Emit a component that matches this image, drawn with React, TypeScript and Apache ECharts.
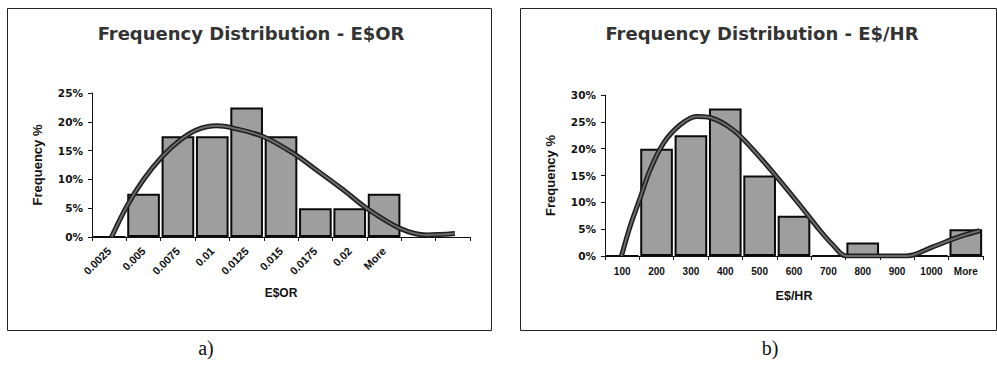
import React, { useEffect, useRef } from "react";
import * as echarts from "echarts";

// ---- Chart a) E$OR ----
const catsA = ["0.0025", "0.005", "0.0075", "0.01", "0.0125", "0.015", "0.0175", "0.02", "More", "", ""];
const freqA = [0, 7.5, 17.5, 17.5, 22.5, 17.5, 5, 5, 7.5, null, null];
// trend curve: [category position, %]
const curveA: [number, number][] = [
  [0.57, 0], [1.01, 5.3], [1.49, 9.9], [2.03, 13.9], [2.56, 16.8], [3.05, 18.6],
  [3.63, 19.3], [4.11, 18.9], [4.99, 17.4], [5.86, 14.5], [6.54, 11.6], [7.31, 8.2],
  [7.99, 5.0], [8.96, 1.5], [9.74, 0.35], [10.56, 0.6],
];
const yTicksA = { min: 0, max: 25, interval: 5 };

// ---- Chart b) E$/HR ----
const catsB = ["100", "200", "300", "400", "500", "600", "700", "800", "900", "1000", "More"];
const freqB = [0, 20, 22.5, 27.5, 15, 7.5, 0, 2.5, 0, 0, 5];
const curveB: [number, number][] = [
  [0.48, 0], [0.73, 5.5], [1.0, 10.4], [1.31, 16.0], [1.7, 21.0], [2.18, 24.4],
  [2.66, 26.0], [3.05, 25.8], [3.73, 23.5], [4.31, 19.8], [4.99, 14.8], [5.67, 9.5],
  [6.25, 4.8], [6.64, 2.0], [7.02, 0], [8.77, 0], [9.54, 1.7], [10.32, 3.6], [10.9, 4.7],
];
const yTicksB = { min: 0, max: 30, interval: 5 };

const titleA = "Frequency Distribution - E$OR";
const titleB = "Frequency Distribution - E$/HR";
const xNameA = "E$OR";
const xNameB = "E$/HR";
const yName = "Frequency %";

const FONT = "'Liberation Sans', Arial, sans-serif";
const WIDE = "'DejaVu Sans', 'Liberation Sans', sans-serif";

export default function App() {
  const ref = useRef<HTMLDivElement>(null);
  useEffect(() => {
    if (!ref.current) return;
    const chart = echarts.init(ref.current, undefined, { renderer: "svg" });

    const catAxis = (
      grid: number,
      cats: string[],
      rotate: number,
      name: string,
      nameGap: number,
      labelSize: number,
      labelMargin: number,
      nameSize: number
    ) => ({
      type: "category",
      gridIndex: grid,
      data: cats,
      boundaryGap: true,
      name,
      nameLocation: "middle",
      nameGap,
      nameTextStyle: { fontFamily: FONT, fontWeight: "bold", fontSize: nameSize, color: "#111" },
      axisLine: { show: true, lineStyle: { color: "#111", width: 1 } },
      axisTick: { show: true, length: 4, lineStyle: { color: "#111" } },
      axisLabel: {
        interval: 0,
        rotate,
        margin: labelMargin,
        fontFamily: FONT,
        fontWeight: "bold",
        fontSize: labelSize,
        color: "#111",
      },
      splitLine: { show: false },
    });
    const valXAxis = (grid: number) => ({
      type: "value",
      gridIndex: grid,
      min: 0,
      max: 11,
      show: false,
    });
    const yAxis = (grid: number, t: { min: number; max: number; interval: number }) => ({
      type: "value",
      gridIndex: grid,
      min: t.min,
      max: t.max,
      interval: t.interval,
      name: yName,
      nameLocation: "middle",
      nameGap: 48,
      nameTextStyle: { fontFamily: FONT, fontWeight: "bold", fontSize: 13, color: "#111" },
      axisLine: { show: true, lineStyle: { color: "#111", width: 1 } },
      axisTick: { show: true, length: 4, lineStyle: { color: "#111" } },
      axisLabel: {
        formatter: "{value}%",
        fontFamily: WIDE,
        fontWeight: "bold",
        fontSize: 10.5,
        color: "#111",
        margin: 9,
      },
      splitLine: { show: false },
    });

    const barSeries = (xi: number, yi: number, data: (number | null)[]) => ({
      type: "bar",
      xAxisIndex: xi,
      yAxisIndex: yi,
      data,
      barCategoryGap: "5%",
      itemStyle: { color: "#9e9e9e", borderColor: "#0a0a0a", borderWidth: 2 },
      z: 2,
    });
    const curveSeries = (xi: number, yi: number, data: [number, number][], w: number, c: string, z: number) => ({
      type: "line",
      xAxisIndex: xi,
      yAxisIndex: yi,
      data,
      smooth: 0.35,
      symbol: "none",
      clip: true,
      lineStyle: { color: c, width: w },
      z,
    });

    const titleStyle = (text: string) => ({
      text,
      font: `bold 18px ${WIDE}`,
      fill: "#333",
      align: "center",
      verticalAlign: "middle",
    });

    chart.setOption({
      animation: false,
      backgroundColor: "#fff",
      grid: [
        { left: 92, top: 93, width: 378, height: 144 },
        { left: 605, top: 95, width: 378, height: 161 },
      ],
      xAxis: [
        catAxis(0, catsA, 45, xNameA, 50, 11, 12, 12),
        valXAxis(0),
        catAxis(1, catsB, 0, xNameB, 33, 10, 10, 12.5),
        valXAxis(1),
      ],
      yAxis: [yAxis(0, yTicksA), yAxis(1, yTicksB)],
      series: [
        barSeries(0, 0, freqA),
        curveSeries(1, 0, curveA, 5, "#1e1e1e", 3),
        curveSeries(1, 0, curveA, 2, "#6a6a6a", 4),
        barSeries(2, 1, freqB),
        curveSeries(3, 1, curveB, 5, "#1e1e1e", 3),
        curveSeries(3, 1, curveB, 2, "#6a6a6a", 4),
      ],
      graphic: [
        { type: "rect", shape: { x: 7.5, y: 8.5, width: 484, height: 322 }, style: { fill: "none", stroke: "#222", lineWidth: 1 }, silent: true },
        { type: "rect", shape: { x: 520.5, y: 8.5, width: 476, height: 322 }, style: { fill: "none", stroke: "#222", lineWidth: 1 }, silent: true },
        { type: "text", x: 251, y: 33, style: titleStyle(titleA) },
        { type: "text", x: 762, y: 33, style: titleStyle(titleB) },
        { type: "text", x: 206, y: 348, style: { text: "a)", font: "20px 'Liberation Serif', 'Times New Roman', serif", fill: "#111", align: "center", verticalAlign: "middle" } },
        { type: "text", x: 770, y: 348, style: { text: "b)", font: "20px 'Liberation Serif', 'Times New Roman', serif", fill: "#111", align: "center", verticalAlign: "middle" } },
      ],
    });
    return () => chart.dispose();
  }, []);
  return (
    <div
      ref={ref}
      style={{ position: "absolute", left: 0, top: 0, width: 997, height: 369, background: "#fff" }}
    />
  );
}
